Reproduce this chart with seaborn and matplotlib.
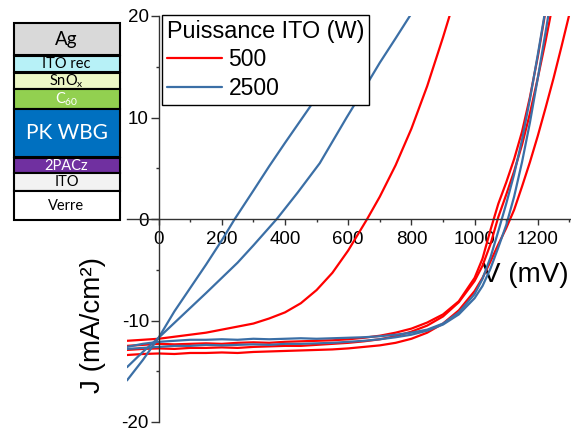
import numpy as np
import pandas as pd
import matplotlib
matplotlib.use("Agg")
import matplotlib.pyplot as plt
from matplotlib.lines import Line2D
from matplotlib.patches import Rectangle
import seaborn as sns

# ---------------- data ----------------
V_good = [-100, -50, 0, 50, 100, 150, 200, 250, 300, 350, 400, 450, 500, 550, 600,
          650, 700, 750, 800, 850, 900, 950, 1000, 1025, 1050, 1075, 1100, 1125,
          1150, 1175, 1200, 1225, 1250, 1275, 1300]

J_r1 = [-12.5, -12.4, -12.3, -12.35, -12.3, -12.25, -12.3, -12.2, -12.15, -12.2, -12.1,
        -12.05, -12.0, -11.95, -11.85, -11.7, -11.5, -11.2, -10.8, -10.2, -9.4, -8.1,
        -5.8, -3.9, -1.1, 1.5, 3.6, 5.9, 8.6, 12.0, 16.0, 20.6, 25.0, 29.0, 33.0]
J_r2 = [-12.9, -12.8, -12.75, -12.8, -12.7, -12.7, -12.65, -12.7, -12.6, -12.55, -12.5,
        -12.5, -12.4, -12.3, -12.2, -12.05, -11.85, -11.55, -11.1, -10.5, -9.6, -8.2,
        -6.1, -4.6, -2.5, 0.2, 2.4, 4.7, 7.3, 10.4, 13.9, 17.6, 21.6, 26.0, 30.0]
J_r4 = [-13.4, -13.3, -13.25, -13.3, -13.2, -13.2, -13.15, -13.2, -13.1, -13.05, -13.0,
        -12.95, -12.9, -12.85, -12.75, -12.6, -12.45, -12.2, -11.8, -11.2, -10.3, -9.0,
        -7.1, -5.8, -4.2, -2.5, -0.9, 0.9, 3.2, 5.6, 8.2, 11.0, 13.9, 17.0, 20.2]
J_b1 = [-12.6, -12.3, -12.1, -12.0, -11.9, -11.9, -11.85, -11.9, -11.8, -11.85, -11.8,
        -11.75, -11.8, -11.75, -11.7, -11.65, -11.55, -11.4, -11.2, -10.9, -10.3, -9.2,
        -7.4, -5.9, -3.8, -1.2, 1.5, 4.4, 7.8, 11.8, 16.2, 20.8, 25.5, 30.0, 34.0]
J_b2 = [-12.8, -12.7, -12.6, -12.5, -12.5, -12.4, -12.45, -12.4, -12.35, -12.4, -12.3,
        -12.3, -12.25, -12.2, -12.1, -12.0, -11.85, -11.65, -11.4, -11.0, -10.4, -9.4,
        -7.8, -6.6, -4.9, -2.8, -0.6, 2.2, 5.6, 9.5, 13.9, 18.5, 23.2, 28.0, 32.0]

V_rp = [-100, -50, 0, 50, 100, 150, 200, 250, 300, 350, 400, 450, 500, 550, 600, 660,
        700, 750, 800, 850, 900, 950]
J_rp = [-12.0, -11.9, -11.8, -11.6, -11.4, -11.2, -10.9, -10.6, -10.3, -9.8, -9.2,
        -8.3, -7.0, -5.3, -3.1, 0.0, 2.2, 5.3, 8.9, 13.1, 17.9, 23.0]

V_bp1 = [-100, -50, 0, 50, 100, 150, 200, 241, 300, 350, 400, 478, 550, 600, 662, 720]
J_bp1 = [-15.9, -13.9, -11.7, -9.1, -6.8, -4.5, -2.1, 0.0, 2.8, 5.2, 7.5, 11.0, 14.5,
         17.0, 20.0, 23.0]

V_bp2 = [-100, -50, 0, 92, 150, 200, 250, 300, 374, 440, 510, 595, 650, 700, 750, 795, 850]
J_bp2 = [-14.6, -13.1, -11.7, -9.0, -7.3, -5.8, -4.3, -2.6, 0.0, 2.6, 5.5, 10.0, 12.8,
         15.4, 17.8, 20.0, 22.6]

curves = [
    ("R1", "500", V_good, J_r1),
    ("R2", "500", V_good, J_r2),
    ("R4", "500", V_good, J_r4),
    ("RP", "500", V_rp, J_rp),
    ("B1", "2500", V_good, J_b1),
    ("B2", "2500", V_good, J_b2),
    ("BP1", "2500", V_bp1, J_bp1),
    ("BP2", "2500", V_bp2, J_bp2),
]

layer_names = ["Ag", "ITO rec", "SnO$_\\mathregular{x}$", "C$_{\\mathregular{60}}$",
               "PK WBG", "2PACz", "ITO", "Verre"]
layer_colors = ["#d9d9d9", "#b7f1f7", "#ecf7c6", "#92d050", "#0070c0", "#7030a0",
                "#f2f2f2", "#ffffff"]
layer_text_colors = ["black", "black", "black", "white", "white", "white", "black", "black"]

x_ticks = [0, 200, 400, 600, 800, 1000, 1200]
y_ticks = [-20, -10, 0, 10, 20]

RED = "#ff0000"
BLUE = "#3b6fa6"

# ---------------- build frame ----------------
rows = []
for cid, power, vs, js in curves:
    for v, j in zip(vs, js):
        rows.append({"curve": cid, "power": power, "V": v, "J": j})
df = pd.DataFrame(rows)

sns.set_style("white")
plt.rcParams["font.family"] = ["Liberation Sans", "DejaVu Sans"]
plt.rcParams["axes.unicode_minus"] = False

fig = plt.figure(figsize=(5.71, 4.32), dpi=100)
W, H = 571, 432
ax = fig.add_axes([127 / W, 10 / H, 444 / W, 406 / H])

sns.lineplot(data=df, x="V", y="J", hue="power", units="curve", estimator=None,
             sort=False, palette={"500": RED, "2500": BLUE}, linewidth=1.6,
             legend=False, ax=ax)

ax.set_xlim(-100, 1305)
ax.set_ylim(-20, 20)
ax.spines["left"].set_position(("data", 0))
ax.spines["bottom"].set_position(("data", 0))
ax.spines["top"].set_visible(False)
ax.spines["right"].set_visible(False)
for s in ("left", "bottom"):
    ax.spines[s].set_color("#333333")
    ax.spines[s].set_linewidth(1.0)

ax.set_xticks(x_ticks)
ax.set_yticks(y_ticks)
ax.set_xticks(np.arange(100, 1301, 200), minor=True)
ax.set_yticks([-15, -5, 5, 15], minor=True)
ax.tick_params(which="both", bottom=True, left=True, top=False, right=False,
               direction="out", color="#333333", width=1, labelcolor="black")
ax.tick_params(axis="x", which="major", length=4, pad=5, labelsize=13.5)
ax.tick_params(axis="y", which="major", length=5.5, pad=1.5, labelsize=13.5)
ax.tick_params(axis="both", which="minor", length=2.5)

ax.set_xlabel("V (mV)", fontsize=20, color="black")
ax.xaxis.set_label_coords((525 - 127) / 444, (422 - 275) / 406)
ax.xaxis.label.set_va("center")
ax.set_ylabel("J (mA/cm²)", fontsize=20, color="black")
ax.yaxis.set_label_coords((93 - 127) / 444, (422 - 325) / 406)
ax.yaxis.label.set_va("center")

handles = [Line2D([], [], color=RED, lw=1.6), Line2D([], [], color=BLUE, lw=1.6)]
leg = ax.legend(handles, ["500", "2500"], title="Puissance ITO (W)",
                loc="upper left", bbox_to_anchor=(162 / W, 1 - 15 / H),
                bbox_transform=fig.transFigure, borderaxespad=0, borderpad=0.2,
                fontsize=16.5, title_fontsize=16.8, handlelength=2.4,
                handletextpad=0.3, labelspacing=0.25, fancybox=False,
                framealpha=1, edgecolor="black", alignment="left")
leg.get_frame().set_linewidth(1.0)
leg.get_title().set_color("black")
for t in leg.get_texts():
    t.set_color("black")

# ---------------- layer stack inset ----------------
ov = fig.add_axes([0, 0, 1, 1], facecolor="none")
ov.set_xlim(0, W)
ov.set_ylim(H, 0)
ov.axis("off")
bounds = [(23, 54.5), (56, 72), (72.5, 89), (89, 108.5), (108.5, 157), (157.5, 173),
          (173, 190.5), (190.5, 220)]
sizes = [13.5, 10.5, 10.5, 10.5, 15, 10.5, 10.5, 10.5]
for (y0, y1), name, col, tc, fs in zip(bounds, layer_names, layer_colors,
                                       layer_text_colors, sizes):
    ov.add_patch(Rectangle((13.5, y0), 106.5, y1 - y0, facecolor=col,
                           edgecolor="black", lw=1.5))
    ov.text(66.5, (y0 + y1) / 2 + 0.5, name, ha="center", va="center", color=tc,
            fontsize=fs, family=["Lato", "DejaVu Sans"])

fig.savefig("out.png", dpi=100)
